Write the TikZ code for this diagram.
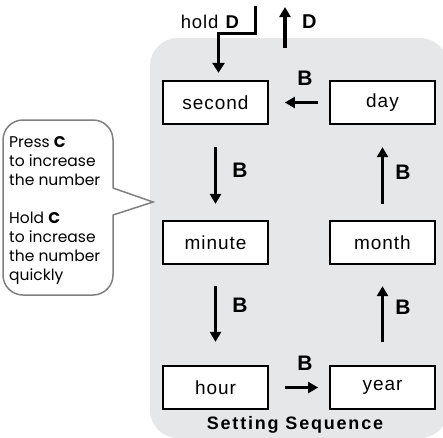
\documentclass[tikz,border=0pt]{standalone}
\usepackage{fontspec}
\setmainfont{Liberation Sans}
\newfontfamily\callfont{Poppins}
\usetikzlibrary{arrows.meta}
\definecolor{panel}{RGB}{230,231,232}
\definecolor{callline}{RGB}{128,128,128}
\tikzset{
  box/.style={draw=black, line width=1.8pt, fill=white, minimum width=105pt,
    minimum height=43.5pt, inner sep=0pt,
    font=\fontsize{19}{22}\selectfont\addfontfeature{LetterSpace=5}},
  arr/.style={line width=3pt, -{Triangle[length=10pt,width=11pt]}},
  blabel/.style={font=\fontsize{21}{24}\selectfont\bfseries, inner sep=0pt},
  calltext/.style={anchor=base west, inner sep=0pt,
    font=\callfont\fontsize{15.5}{19}\selectfont},
}
\begin{document}
\begin{tikzpicture}[x=1pt,y=-1pt]
\useasboundingbox (0,0) rectangle (443,437);
\clip (0,0) rectangle (443,437);
\fill[white] (0,0) rectangle (443,437);
% panel
\fill[panel, rounded corners=28pt] (150,38) rectangle (448,438);
% callout
\draw[callline, line width=1.5pt, fill=white, rounded corners=20pt] (3,120) rectangle (113,295);
\fill[white] (111,188) -- (153,202) -- (111,215) -- cycle;
\draw[callline, line width=1.5pt, line join=miter] (113,188) -- (153,202) -- (113,215);
\node[calltext] (c1) at (9,147) {Press \textbf{C}};
\node[calltext] (c2) at (9,166) {to increase};
\node[calltext] (c3) at (9,185) {the number};
\node[calltext] (c4) at (9,223) {Hold \textbf{C}};
\node[calltext] (c5) at (9,242) {to increase};
\node[calltext] (c6) at (9,261) {the number};
\node[calltext] (c7) at (9,280) {quickly};
% boxes
\node[box] (second) at (215.5,102.5) {second};
\node[box] (day)    at (382.5,102.5) {day};
\node[box] (minute) at (215.5,242.5) {minute};
\node[box] (month)  at (382.5,242.5) {month};
\node[box] (hour)   at (215.5,387.5) {hour};
\node[box] (year)   at (382.5,387.5) {year};
% arrows
\draw[arr] ([xshift=-11pt]day.west) -- ([xshift=16pt]second.east);
\draw[arr] ([yshift=-22pt]second.south) -- ([yshift=16pt]minute.north);
\draw[arr] ([yshift=-21pt]minute.south) -- ([yshift=23pt]hour.north);
\draw[arr] ([xshift=16pt]hour.east) -- ([xshift=-11pt]year.west);
\draw[arr] ([yshift=23pt]year.north) -- ([yshift=-21pt]month.south);
\draw[arr] ([yshift=16pt]month.north) -- ([yshift=-22pt]day.south);
\node[blabel] (b1) at (305,78) {B};
\node[blabel] (b2) at (240,170) {B};
\node[blabel] (b3) at (240,305) {B};
\node[blabel] (b4) at (305,363) {B};
\node[blabel] (b5) at (403,307) {B};
\node[blabel] (b6) at (403,172) {B};
% hold D / D
\coordinate (hstart) at (255.5,6);
\coordinate (hbend) at (218.5,33.5);
\coordinate (dtail) at (285,48);
\coordinate (dtip) at (285,7);
\draw[line width=3.5pt, -{Triangle[length=10pt,width=12pt]}] (hstart) |- (hbend) -- ([yshift=7pt]second.north -| hbend);
\draw[arr, line width=3.5pt] (dtail) -- (dtip);
\node[inner sep=0pt, anchor=base east, font=\fontsize{18.5}{20}\selectfont\addfontfeature{LetterSpace=5}] (hold) at (240,28) {hold \textbf{D}};
\node[inner sep=0pt, anchor=base west, font=\fontsize{20}{22}\selectfont\bfseries] (dlab) at (302,28) {D};
% title
\node[inner sep=0pt, font=\fontsize{18}{21}\selectfont\bfseries\addfontfeature{LetterSpace=10}] (title) at (295,425) {Setting Sequence};
\end{tikzpicture}
\end{document}
